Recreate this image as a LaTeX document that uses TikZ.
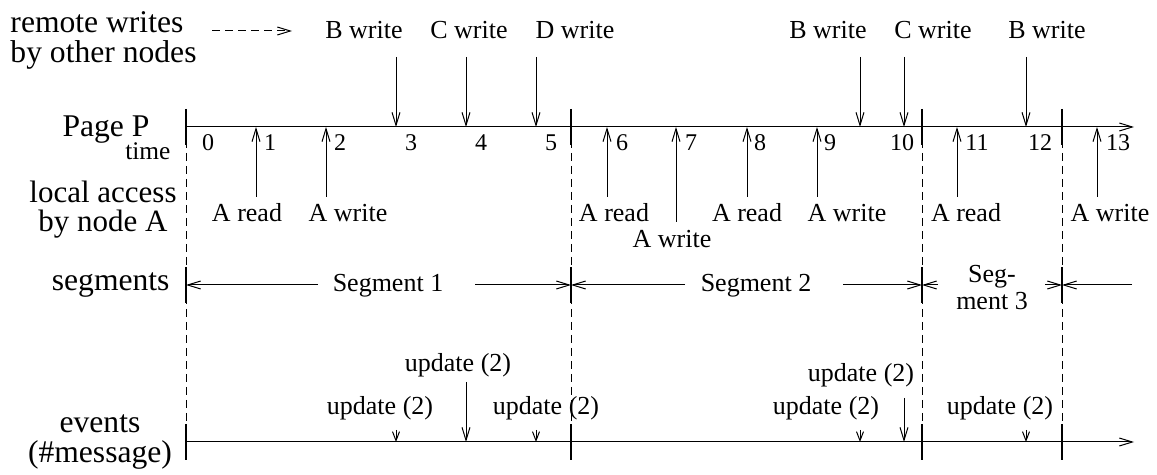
\documentclass[tikz,border=0pt]{standalone}
\usepackage{fontspec}
\setmainfont{Liberation Serif}
\usetikzlibrary{arrows.meta}

\begin{document}
\begin{tikzpicture}[x=0.5pt, y=-0.5pt, >={Straight Barb[length=6.5pt, width=4pt]}, line width=0.5pt,
        lbl/.style={inner sep=0pt, anchor=base, font=\fontsize{13}{15}\selectfont},
        num/.style={inner sep=0pt, anchor=base, font=\fontsize{12}{14}\selectfont},
        side/.style={inner sep=0pt, font=\fontsize{15.8}{15}\selectfont},
        bound/.style={line width=1pt},
        guide/.style={dash pattern=on 4pt off 2.5pt},
        bump/.style={-{Straight Barb[length=4.5pt, width=3.5pt]}}]

    \useasboundingbox (0,0) rectangle (1157,475);

    % row labels on the left
    \node (rw) [side, align=left, anchor=base west] at (10,63) {remote writes\\by other nodes};
    \node (pp) [side, anchor=base east] at (150,137) {Page P};
    \node (tm) [lbl, anchor=base east, font=\fontsize{12.7}{14}\selectfont] at (171,160) {time};
    \node (la) [side, align=center, anchor=base, font=\fontsize{15.5}{14.5}\selectfont] at (103,232) {local access\\by node A};
    \node (sg) [side, anchor=base east] at (170,291) {segments};
    \node (ev) [side, align=center, anchor=base] at (100,463) {events\\(\#message)};

    \coordinate (d0) at (212,31);
    \coordinate (d1) at (292,31);
    \draw[->, guide] (d0) -- (d1);

    % axes and segment boundaries
    \coordinate (p0) at (186,127);
    \coordinate (p1) at (571,127);
    \coordinate (p2) at (922,127);
    \coordinate (p3) at (1062,127);
    \coordinate (pend) at (1134,127);
    \coordinate (e0) at (186,442);
    \coordinate (eend) at (1134,442);
    \coordinate (sg0) at (186,285);
    \coordinate (sg1) at (571,285);
    \coordinate (sg2) at (922,285);
    \coordinate (sg3) at (1062,285);

    \draw[->] (p0) -- (pend);
    \draw[->] (e0) -- (eend);

    \draw[guide] (p0) -- (e0);
    \draw[guide] (p1) -- (p1 |- e0);
    \draw[guide] (p2) -- (p2 |- e0);
    \draw[guide] (p3) -- (p3 |- e0);

    \draw[bound] ([yshift=9pt]p0) -- ([yshift=-9pt]p0);
    \draw[bound] ([yshift=9pt]p1) -- ([yshift=-9pt]p1);
    \draw[bound] ([yshift=9pt]p2) -- ([yshift=-9pt]p2);
    \draw[bound] ([yshift=9pt]p3) -- ([yshift=-9pt]p3);
    \draw[bound] ([yshift=9pt]sg0) -- ([yshift=-9pt]sg0);
    \draw[bound] ([yshift=9pt]sg1) -- ([yshift=-9pt]sg1);
    \draw[bound] ([yshift=9pt]sg2) -- ([yshift=-9pt]sg2);
    \draw[bound] ([yshift=9pt]sg3) -- ([yshift=-9pt]sg3);
    \draw[bound] ([yshift=9pt]e0) -- ([yshift=-9pt]e0);
    \draw[bound] ([yshift=9pt]p1 |- e0) -- ([yshift=-9pt]p1 |- e0);
    \draw[bound] ([yshift=9pt]p2 |- e0) -- ([yshift=-9pt]p2 |- e0);
    \draw[bound] ([yshift=9pt]p3 |- e0) -- ([yshift=-9pt]p3 |- e0);

    % time steps
    \node (t0) [num] at (208,151) {0};
    \node (t1) [num] at (270,151) {1};
    \node (t2) [num] at (340,151) {2};
    \node (t3) [num] at (411,151) {3};
    \node (t4) [num] at (481,151) {4};
    \node (t5) [num] at (551,151) {5};
    \node (t6) [num] at (622,151) {6};
    \node (t7) [num] at (691,151) {7};
    \node (t8) [num] at (760,151) {8};
    \node (t9) [num] at (830,151) {9};
    \node (t10) [num] at (902,151) {10};
    \node (t11) [num] at (977,151) {11};
    \node (t12) [num] at (1040,151) {12};
    \node (t13) [num] at (1118,151) {13};

    % remote writes
    \coordinate (w3) at (396,57);
    \coordinate (w4) at (466,57);
    \coordinate (w5) at (536,57);
    \coordinate (w9) at (860,57);
    \coordinate (w10) at (904,57);
    \coordinate (w12) at (1026,57);
    \node (lw3) [lbl] at (364,39) {B write};
    \node (lw4) [lbl] at (469,39) {C write};
    \node (lw5) [lbl] at (575,39) {D write};
    \node (lw9) [lbl] at (828,39) {B write};
    \node (lw10) [lbl] at (933,39) {C write};
    \node (lw12) [lbl] at (1047,39) {B write};
    \draw[->] (w3) -- (w3 |- p0);
    \draw[->] (w4) -- (w4 |- p0);
    \draw[->] (w5) -- (w5 |- p0);
    \draw[->] (w9) -- (w9 |- p0);
    \draw[->] (w10) -- (w10 |- p0);
    \draw[->] (w12) -- (w12 |- p0);

    % local access by A
    \coordinate (a1) at (256,197);
    \coordinate (a2) at (326,197);
    \coordinate (a6) at (607,197);
    \coordinate (a7) at (676,222);
    \coordinate (a8) at (747,197);
    \coordinate (a9) at (817,197);
    \coordinate (a11) at (957,197);
    \coordinate (a13) at (1097,197);
    \node (la1) [lbl] at (247,222) {A read};
    \node (la2) [lbl] at (348,222) {A write};
    \node (la6) [lbl] at (614,222) {A read};
    \node (la7) [lbl] at (672,248) {A write};
    \node (la8) [lbl] at (747,222) {A read};
    \node (la9) [lbl] at (847,222) {A write};
    \node (la11) [lbl] at (966,222) {A read};
    \node (la13) [lbl] at (1110,222) {A write};
    \draw[->] (a1) -- (a1 |- p0);
    \draw[->] (a2) -- (a2 |- p0);
    \draw[->] (a6) -- (a6 |- p0);
    \draw[->] (a7) -- (a7 |- p0);
    \draw[->] (a8) -- (a8 |- p0);
    \draw[->] (a9) -- (a9 |- p0);
    \draw[->] (a11) -- (a11 |- p0);
    \draw[->] (a13) -- (a13 |- p0);

    % segments
    \node (s1) [lbl] at (388,292) {Segment 1};
    \node (s2) [lbl] at (756,292) {Segment 2};
    \node (s3) [lbl, align=center, font=\fontsize{13}{13.5}\selectfont] at (992,310) {Seg-\\ment 3};
    \coordinate (l1a) at (318,285);
    \coordinate (l1b) at (475,285);
    \coordinate (l2a) at (685,285);
    \coordinate (l2b) at (843,285);
    \coordinate (l3a) at (938,285);
    \coordinate (l3b) at (1045,285);
    \coordinate (l4) at (1132,285);
    \draw[->] (l1a) -- (sg0);
    \draw[->] (l1b) -- (sg1);
    \draw[->] (l2a) -- (sg1);
    \draw[->] (l2b) -- (sg2);
    \draw[->] (l3a) -- (sg2);
    \draw[->] (l3b) -- (sg3);
    \draw[->] (l4) -- (sg3);

    % events
    \coordinate (u3) at (396,430);
    \coordinate (u4) at (466,382);
    \coordinate (u5) at (536,430);
    \coordinate (u9) at (860,430);
    \coordinate (u10) at (904,398);
    \coordinate (u12) at (1026,430);
    \node (lu3) [lbl] at (380,415) {update (2)};
    \node (lu4) [lbl] at (458,372) {update (2)};
    \node (lu5) [lbl] at (546,415) {update (2)};
    \node (lu9) [lbl] at (826,415) {update (2)};
    \node (lu10) [lbl] at (861,382) {update (2)};
    \node (lu12) [lbl] at (1000,415) {update (2)};
    \draw[bump] (u3) -- (u3 |- e0);
    \draw[->] (u4) -- (u4 |- e0);
    \draw[bump] (u5) -- (u5 |- e0);
    \draw[bump] (u9) -- (u9 |- e0);
    \draw[->] (u10) -- (u10 |- e0);
    \draw[bump] (u12) -- (u12 |- e0);
\end{tikzpicture}
\end{document}
